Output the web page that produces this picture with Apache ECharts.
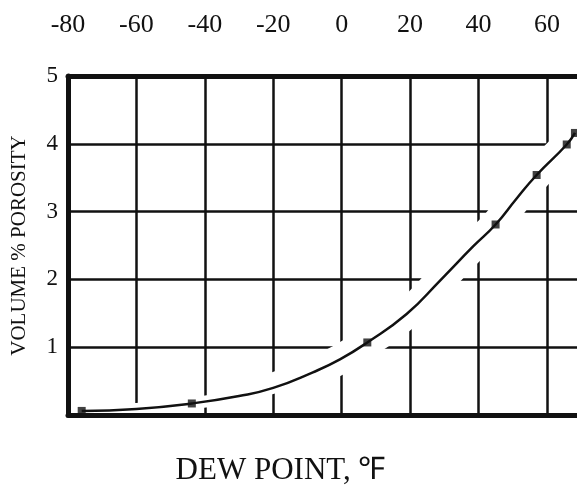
<!DOCTYPE html>
<html>
<head>
<meta charset="utf-8">
<script src="https://cdn.jsdelivr.net/npm/echarts@6/dist/echarts.min.js"></script>
<style>html,body{margin:0;padding:0;background:#fff;}#c{width:577px;height:491px;}</style>
</head>
<body>
<div id="c"></div>
<script>
// Dew point (°F) vs volume % porosity
const curveX = [-76, -60, -43.8, -30, -20, -8.4, -0.5, 7.5, 19, 28.7, 38.5, 45, 51.1, 57, 65.8, 68.2];
const curveY = [0.06, 0.09, 0.17, 0.28, 0.40, 0.63, 0.82, 1.07, 1.49, 1.98, 2.49, 2.81, 3.19, 3.54, 3.99, 4.16];
const markX = [-76, -43.8, 7.5, 45, 57, 65.8, 68.2];
const markY = [0.06, 0.17, 1.07, 2.81, 3.54, 3.99, 4.16];
const xTicks = [-80, -60, -40, -20, 0, 20, 40, 60];
const yTicks = [1, 2, 3, 4, 5];
const xMin = -80, xMax = 68.8;

const curve = curveX.map((x, i) => [x, curveY[i]]);
const marks = markX.map((x, i) => [x, markY[i]]);
const wideStart = curveX.indexOf(-20);

const FONT = '"Liberation Serif", "Times New Roman", serif';
const INK = '#111';
const SMOOTH = 0.5;

const chart = echarts.init(document.getElementById('c'), null, {renderer: 'canvas'});
chart.setOption({
  animation: false,
  backgroundColor: '#fff',
  grid: {left: 68, top: 76, right: 0, height: 339, containLabel: false},
  xAxis: [{
    type: 'value', position: 'top', min: xMin, max: xMax, interval: 20,
    axisLine: {show: true, onZero: false, lineStyle: {color: INK, width: 5}},
    axisTick: {show: false},
    axisLabel: {
      show: true, margin: 38, fontFamily: FONT, fontSize: 26, color: INK,
      showMaxLabel: false,
      formatter: v => xTicks.indexOf(v) >= 0 ? String(v) : ''
    },
    splitLine: {show: true, showMaxLine: false, lineStyle: {color: INK, width: 2.5}}
  }, {
    type: 'value', position: 'bottom', min: xMin, max: xMax, interval: 20, z: 10,
    axisLine: {show: true, onZero: false, lineStyle: {color: INK, width: 5}},
    axisTick: {show: false}, axisLabel: {show: false}, splitLine: {show: false},
    name: 'DEW POINT, \u2109', nameLocation: 'middle', nameGap: 40,
    nameTextStyle: {fontFamily: FONT, fontSize: 31, color: INK, padding: [0, 84, 0, 0]}
  }],
  yAxis: [{
    type: 'value', min: 0, max: 5, interval: 1,
    axisLine: {show: true, onZero: false, lineStyle: {color: INK, width: 5}},
    axisTick: {show: false},
    axisLabel: {
      show: true, margin: 10, fontFamily: FONT, fontSize: 23, color: INK,
      padding: [18, 0, 0, 0],
      formatter: v => yTicks.indexOf(v) >= 0 ? String(v) : ''
    },
    splitLine: {show: true, lineStyle: {color: INK, width: 2.5}},
    name: 'VOLUME % POROSITY', nameLocation: 'middle', nameGap: 38, nameRotate: 90,
    nameTextStyle: {fontFamily: FONT, fontSize: 21, color: INK}
  }],
  series: [{
    type: 'line', name: 'gapNarrow', data: curve, smooth: SMOOTH, symbol: 'none', silent: true, z: 2,
    lineStyle: {color: '#fff', width: 12, cap: 'butt'}
  }, {
    type: 'line', name: 'gapWide', data: curve.slice(wideStart), smooth: SMOOTH, symbol: 'none', silent: true, z: 2,
    lineStyle: {color: '#fff', width: 30, cap: 'butt'}
  }, {
    type: 'line', name: 'curve', data: curve, smooth: SMOOTH, symbol: 'none', z: 3,
    lineStyle: {color: INK, width: 2.5}
  }, {
    type: 'scatter', name: 'points', data: marks, symbol: 'rect', symbolSize: 8, z: 4,
    itemStyle: {color: INK}
  }]
});
</script>
</body>
</html>
